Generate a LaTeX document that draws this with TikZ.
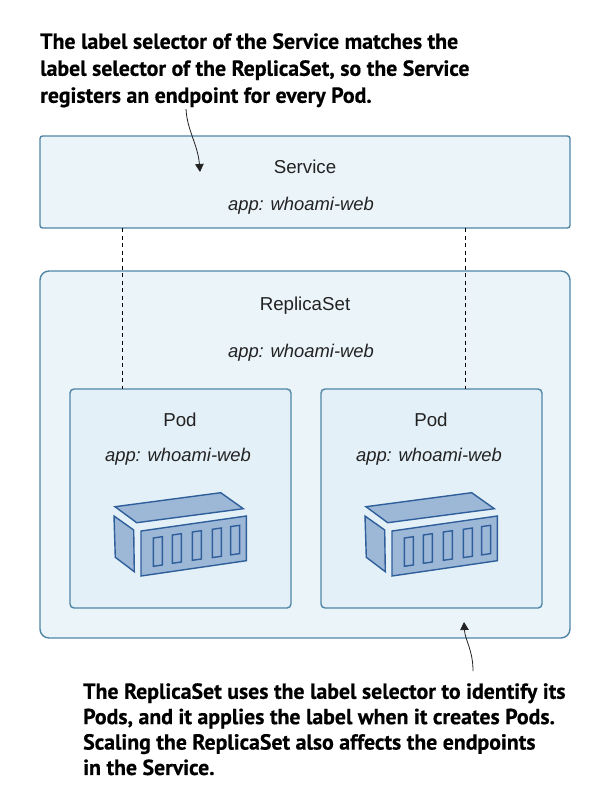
\documentclass[tikz,border=0pt]{standalone}
\usepackage{fontspec}
\setmainfont{Liberation Sans}
\newfontfamily\callfont[BoldFeatures={FakeBold=0.5}]{PT Sans}
\usetikzlibrary{arrows.meta}
\definecolor{outerfill}{HTML}{EBF4F9}
\definecolor{innerfill}{HTML}{E3F0F7}
\definecolor{boxline}{HTML}{4F86A6}
\definecolor{contfill}{HTML}{9DB7D7}
\definecolor{contline}{HTML}{2F5F9A}
\definecolor{inktext}{HTML}{222222}
\tikzset{
  x=1pt,y=-1pt,
  boxa/.style={draw=boxline,fill=outerfill,line width=1.4pt,rounded corners=2.5pt},
  boxb/.style={draw=boxline,fill=outerfill,line width=1.4pt,rounded corners=9pt},
  boxc/.style={draw=boxline,fill=innerfill,line width=1.4pt,rounded corners=4pt},
  lbl/.style={font=\fontsize{18.7}{22}\selectfont,text=inktext,inner sep=0pt},
  sel/.style={font=\fontsize{18.4}{22}\selectfont\itshape,text=inktext,inner sep=0pt},
  call/.style={text=black,align=left,anchor=north west,inner sep=0pt},
  cpart/.style={draw=contline,fill=contfill,line width=1.4pt,line join=miter},
  link/.style={draw=black,line width=0.9pt,dashed,dash pattern=on 4pt off 3.5pt},
  lead/.style={draw=inktext,line width=0.8pt,-{Triangle[length=8pt,width=8.5pt]}},
  pics/crate/.style={code={
    \path[cpart] (115,506.7) -- (220.7,492.7) -- (243.3,508.7) -- (136.7,522.7) -- cycle;
    \path[cpart] (114,516) -- (133.7,530) -- (134.3,571.7) -- (115.3,557.3) -- cycle;
    \path[cpart] (141,531) -- (246.3,516) -- (246.3,560.7) -- (141,576) -- cycle;
    \path[cpart] (153.3,538) -- (162.3,536.7) -- (162.3,565) -- (153.3,566.3) -- cycle;
    \path[cpart] (172.3,535) -- (181.3,533.7) -- (181.3,562) -- (172.3,563.3) -- cycle;
    \path[cpart] (192.3,532) -- (201.3,530.7) -- (201.3,559) -- (192.3,560.3) -- cycle;
    \path[cpart] (212.3,529.3) -- (221.3,528) -- (221.3,556.3) -- (212.3,557.6) -- cycle;
    \path[cpart] (230.6,526.6) -- (239.6,525.3) -- (239.6,553.6) -- (230.6,554.9) -- cycle;
  }}
}
\begin{document}
\begin{tikzpicture}
\useasboundingbox (0,0) rectangle (609,806);
\fill[white] (0,0) rectangle (609,806);
% boxes
\draw[boxa] (40,136) rectangle (570,228);
\draw[boxb] (40,271) rectangle (570,638);
\coordinate (svcl) at (122,228);
\coordinate (svcr) at (465,228);
\node[lbl] (svc) at (305,167) {Service};
\node[sel] (svcsel) at (301,205.5) {app: whoami-web};
\node[lbl] (rs) at (305,305.5) {ReplicaSet};
\node[sel] (rssel) at (301,352.5) {app: whoami-web};
\draw[boxc] (70,389) rectangle (291,608);
\draw[boxc] (321,389) rectangle (542,608);
\coordinate (podl) at (122,389);
\coordinate (podr) at (465,389);
\draw[link] (svcl) -- (podl);
\draw[link] (svcr) -- (podr);
\node[lbl] (pa) at (180,420) {Pod};
\node[sel] (pasel) at (178,456.5) {app: whoami-web};
\node[lbl] (pb) at (431,420) {Pod};
\node[sel] (pbsel) at (429,456.5) {app: whoami-web};
\pic at (0,0) {crate};
\pic at (251,0) {crate};
% callouts
\node[call,font=\callfont\bfseries\fontsize{21.8}{27}\selectfont] (topnote) at (40,33) {The label selector of the Service matches the\\label selector of the ReplicaSet, so the Service\\registers an endpoint for every Pod.};
\node[call,font=\callfont\bfseries\fontsize{21.8}{25.4}\selectfont] (botnote) at (83,683) {The ReplicaSet uses the label selector to identify its\\Pods, and it applies the label when it creates Pods.\\Scaling the ReplicaSet also affects the endpoints\\in the Service.};
\coordinate (topfree) at (186,109);
\coordinate (topend) at (200,172);
\coordinate (botfree) at (473,671);
\coordinate (botend) at (464,622);
\draw[lead] (topfree) .. controls (187,130) and (198,145) .. (topend);
\draw[lead] (botfree) .. controls (473,650) and (465,640) .. (botend);
\end{tikzpicture}
\end{document}
